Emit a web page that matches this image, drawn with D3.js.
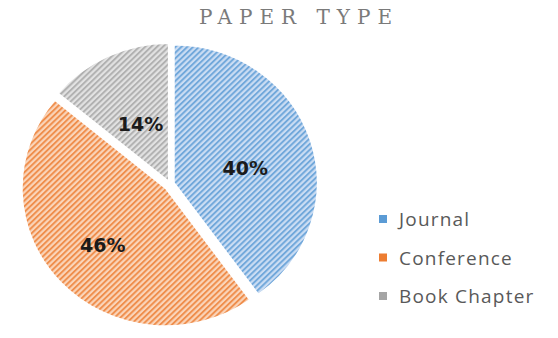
<!DOCTYPE html>
<html>
<head>
<meta charset="utf-8">
<script src="https://cdn.jsdelivr.net/npm/d3@7"></script>
<style>
  html, body { margin: 0; padding: 0; background: #fff; }
  svg { display: block; }
</style>
</head>
<body>
<svg id="chart" width="558" height="338"></svg>
<script>
// Share of publications by paper type
const categories = ["Journal", "Conference", "Book Chapter"];
const shares = [40, 46, 14];
const percentLabels = ["40%", "46%", "14%"];
const baseColors = ["#5b9bd5", "#ed7d31", "#a5a5a5"];
const tintColors = ["#cbddf3", "#fad5ba", "#e2e2e2"];

const width = 558, height = 338;
const svg = d3.select("#chart");

const cx = 170, cy = 184, radius = 138, stretchX = 1.04;
const explode = [4, 6, 3];
const labelRadii = [0.51, 0.6, 0.46];
const labelAngleShift = [0.1, 0, 0];

// Diagonal hatch fills, one per slice
const defs = svg.append("defs");
categories.forEach((c, i) => {
  const p = defs.append("pattern")
    .attr("id", "hatch" + i)
    .attr("patternUnits", "userSpaceOnUse")
    .attr("width", 4).attr("height", 4)
    .attr("patternTransform", "rotate(-45)");
  p.append("rect").attr("width", 4).attr("height", 4).attr("fill", tintColors[i]);
  p.append("line").attr("x1", 0).attr("y1", 1).attr("x2", 4).attr("y2", 1)
    .attr("stroke", baseColors[i]).attr("stroke-width", 1.8).attr("stroke-opacity", 0.85);
});

const pie = d3.pie().value(d => d).sort(null);
const arcs = pie(shares);
const arc = d3.arc().innerRadius(0).outerRadius(radius);
const mid = d => (d.startAngle + d.endAngle) / 2;

const g = svg.append("g").attr("transform", `translate(${cx},${cy}) scale(${stretchX},1)`);
g.selectAll("path.slice")
  .data(arcs)
  .join("path")
  .attr("class", "slice")
  .attr("transform", (d, i) =>
    `translate(${Math.sin(mid(d)) * explode[i]},${-Math.cos(mid(d)) * explode[i]})`)
  .attr("d", arc)
  .attr("fill", (d, i) => `url(#hatch${i})`)
  .attr("stroke", "#ffffff")
  .attr("stroke-width", 1.5);

// Percentage labels inside the slices
const labelAngle = (d, i) => mid(d) + labelAngleShift[i];
svg.append("g").selectAll("text")
  .data(arcs)
  .join("text")
  .attr("x", (d, i) => cx + Math.sin(mid(d)) * explode[i]
    + Math.sin(labelAngle(d, i)) * radius * labelRadii[i] * stretchX)
  .attr("y", (d, i) => cy - Math.cos(mid(d)) * explode[i]
    - Math.cos(labelAngle(d, i)) * radius * labelRadii[i])
  .attr("text-anchor", "middle")
  .attr("dominant-baseline", "central")
  .attr("font-family", "'DejaVu Sans', sans-serif")
  .attr("font-weight", "bold")
  .attr("font-size", 19)
  .attr("fill", "#1b1b1b")
  .text((d, i) => percentLabels[i]);

// Title
svg.append("text")
  .attr("x", 299).attr("y", 24)
  .attr("text-anchor", "middle")
  .attr("font-family", "'DejaVu Serif', serif")
  .attr("font-size", 20)
  .attr("letter-spacing", 7)
  .attr("fill", "#7a7a7a")
  .text("PAPER TYPE");

// Legend
const legend = svg.append("g").attr("transform", "translate(379,219)");
const item = legend.selectAll("g")
  .data(categories)
  .join("g")
  .attr("transform", (d, i) => `translate(0,${i * 38.5})`);
item.append("rect")
  .attr("x", 0).attr("y", -4).attr("width", 8).attr("height", 8)
  .attr("fill", (d, i) => baseColors[i]);
item.append("text")
  .attr("x", 20).attr("y", 0)
  .attr("dominant-baseline", "central")
  .attr("font-family", "'Open Sans', sans-serif")
  .attr("font-size", 19)
  .attr("letter-spacing", 1.2)
  .attr("fill", "#595959")
  .text(d => d);
</script>
</body>
</html>
